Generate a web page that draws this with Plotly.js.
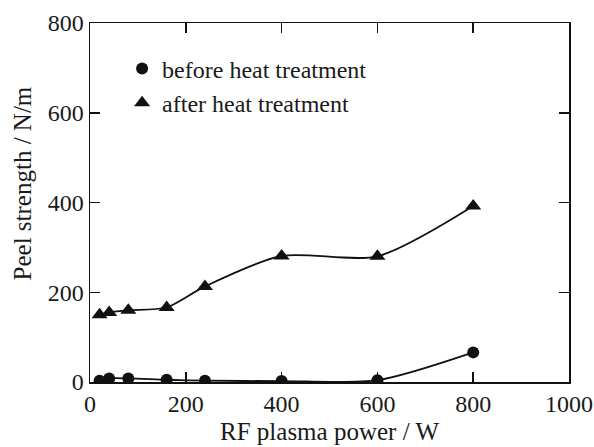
<!DOCTYPE html>
<html>
<head>
<meta charset="utf-8">
<script src="https://cdn.plot.ly/plotly-3.0.1.min.js"></script>
<style>html,body{margin:0;padding:0;background:#fff;}#chart{width:594px;height:447px;}</style>
</head>
<body>
<div id="chart"></div>
<script>
const power = [20, 40, 80, 160, 240, 400, 600, 800];
const before = [3, 8, 8, 5, 3, 2, 4, 66];
const after = [150, 155, 160, 166, 213, 281, 280, 392];
const xTicks = [0, 200, 400, 600, 800, 1000];
const yTicks = [0, 200, 400, 600, 800];
const seriesNames = ['before heat treatment', 'after heat treatment'];
const xTitle = 'RF plasma power / W';
const yTitle = 'Peel strength / N/m';

const font = {family: 'Liberation Serif, Times New Roman, serif', size: 24, color: '#1a1a1a'};
const titleFont = {family: 'Liberation Serif, Times New Roman, serif', size: 25, color: '#1a1a1a'};

const traces = [
  {x: power, y: before, mode: 'lines', line: {shape: 'spline', smoothing: 0.75, color: '#111', width: 1.8}, showlegend: false, hoverinfo: 'skip'},
  {x: power, y: after, mode: 'lines', line: {shape: 'spline', smoothing: 0.75, color: '#111', width: 1.8}, showlegend: false, hoverinfo: 'skip'},
  {x: power, y: before, mode: 'markers', name: seriesNames[0], legendgroup: 'a', marker: {symbol: 'circle', size: 12, color: '#111'}},
  {x: power, y: after, mode: 'markers', name: seriesNames[1], legendgroup: 'b', marker: {symbol: 'triangle-up', size: 14, color: '#111'}}
];

const axisCommon = {
  showgrid: false, zeroline: false, showline: true, mirror: 'ticks',
  linecolor: '#111', linewidth: 1.5, ticks: 'inside', ticklen: 10, tickwidth: 1.5, tickcolor: '#111',
  tickfont: font
};

const layout = {
  width: 594, height: 447,
  margin: {l: 90, r: 25, t: 23, b: 65},
  paper_bgcolor: '#fff', plot_bgcolor: '#fff',
  font: font,
  xaxis: Object.assign({}, axisCommon, {range: [0, 1000], tickvals: xTicks, ticktext: xTicks.map(String),
    title: {text: xTitle, font: titleFont, standoff: 6}}),
  yaxis: Object.assign({}, axisCommon, {range: [0, 800], tickvals: yTicks, ticktext: yTicks.map(String)}),
  annotations: [{
    text: yTitle, textangle: -90, font: titleFont, showarrow: false,
    xref: 'paper', yref: 'paper', x: -0.142, y: 0.553, xanchor: 'center', yanchor: 'middle'
  }],
  legend: {x: 0.067, y: 0.935, xanchor: 'left', yanchor: 'top', bgcolor: 'rgba(0,0,0,0)', font: font,
    traceorder: 'grouped', tracegroupgap: 0}
};

Plotly.newPlot('chart', traces, layout, {displayModeBar: false, staticPlot: true});
</script>
</body>
</html>
